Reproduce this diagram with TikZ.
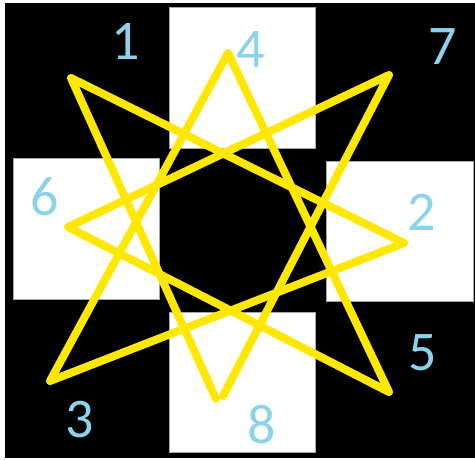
\documentclass[tikz,border=0pt]{standalone}
\usepackage{fontspec}
\setmainfont{Carlito}
\definecolor{staryellow}{RGB}{255,232,0}
\definecolor{numblue}{RGB}{140,210,235}
\begin{document}
\begin{tikzpicture}[x=1pt,y=-1pt,
  panel/.style={fill=white,draw=gray!70,line width=0.6pt},
  numlabel/.style={text=numblue,font=\fontsize{56}{56}\selectfont,inner sep=0pt,anchor=center},
  starline/.style={draw=staryellow,line width=8pt,line cap=round,line join=round}]
\useasboundingbox (0,0) rectangle (475,459);
\fill[white] (0,0) rectangle (475,459);
\fill[black] (5,3) rectangle (475,458);
% white panels
\path[panel] (169,7) rectangle (315,148);
\path[panel] (13,158) rectangle (159,299);
\path[panel] (326,161) rectangle (473,301);
\path[panel] (169,312) rectangle (315,452);
% star vertices
\coordinate (v1) at (71,78);
\coordinate (v2) at (404,243);
\coordinate (v3) at (50,381);
\coordinate (v4) at (228,53);
\coordinate (v5) at (389,392);
\coordinate (v6) at (68,227);
\coordinate (v7) at (389,75);
\coordinate (v8a) at (216,399);
\coordinate (v8b) at (223,396);
\draw[starline] (v8a) -- (v1) -- (v2) -- (v3) -- (v4) -- (v5) -- (v6) -- (v7) -- (v8b);
% labels
\node[numlabel] (l1) at (126,41) {1};
\node[numlabel] (l4) at (251,50) {4};
\node[numlabel] (l7) at (443,47) {7};
\node[numlabel] (l6) at (45,197) {6};
\node[numlabel] (l2) at (422,212) {2};
\node[numlabel] (l5) at (423,353) {5};
\node[numlabel] (l3) at (80,420) {3};
\node[numlabel] (l8) at (262,425) {8};
\end{tikzpicture}
\end{document}
